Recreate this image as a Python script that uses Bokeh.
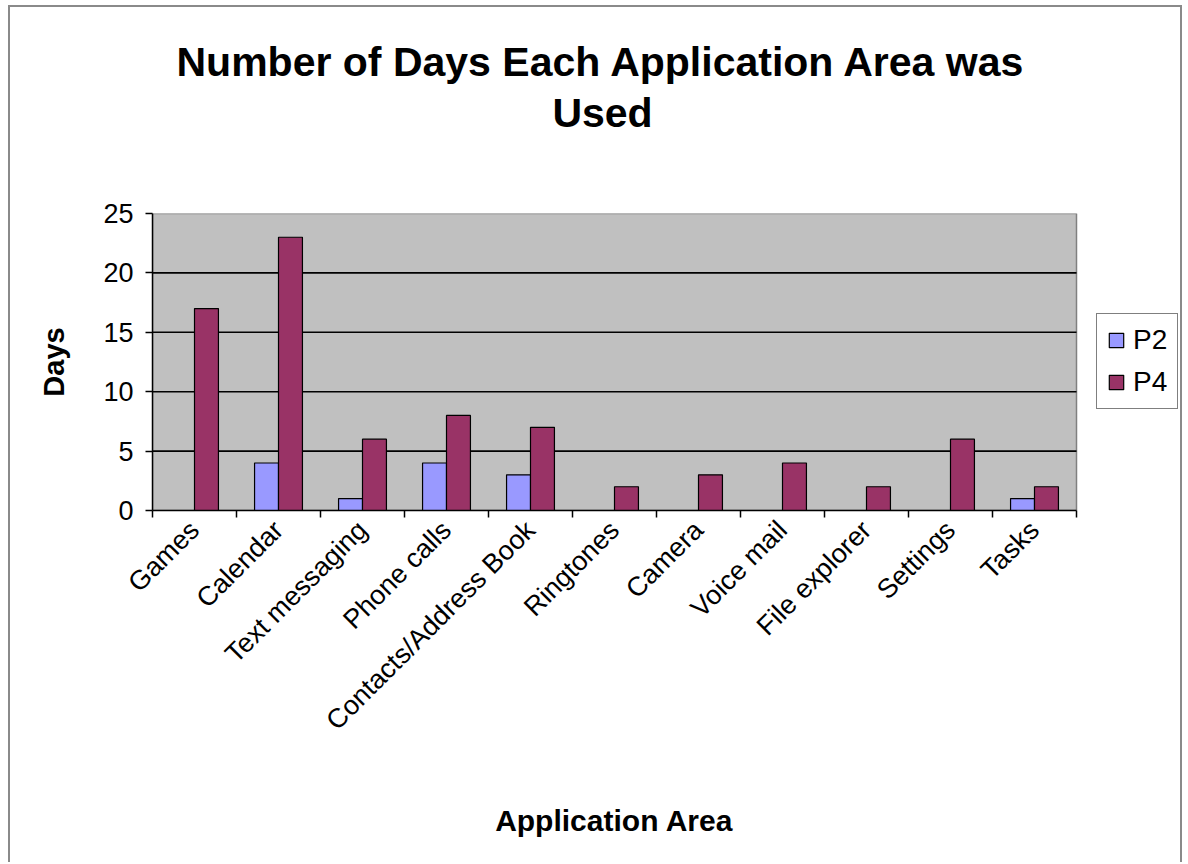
import math
from bokeh.plotting import figure
from bokeh.models import Range1d, FixedTicker, Legend, LegendItem
from bokeh.embed import file_html
from bokeh.resources import INLINE

# Usage data: number of days each application area was used
areas = ["Games", "Calendar", "Text messaging", "Phone calls", "Contacts/Address Book",
         "Ringtones", "Camera", "Voice mail", "File explorer", "Settings", "Tasks"]
p2_days = [0, 4, 1, 4, 3, 0, 0, 0, 0, 0, 1]
p4_days = [17, 23, 6, 8, 7, 2, 3, 4, 2, 6, 2]
y_ticks = [0, 5, 10, 15, 20, 25]

FONT = "Liberation Sans"
BAR_W = 0.285
N = len(areas)

# The frame runs to the right edge of the canvas so the legend can sit
# beside the grey plot area; the plot area itself covers x in [0, N].
FRAME_PX = 1032
PLOT_PX = 924
x_end = N * FRAME_PX / PLOT_PX

centers = [i + 0.5 for i in range(N)]
x_p2 = [c - BAR_W / 2 for c in centers]
x_p4 = [c + BAR_W / 2 for c in centers]

p = figure(width=1174, height=857,
           x_range=Range1d(0, x_end), y_range=Range1d(y_ticks[0], y_ticks[-1]),
           output_backend="svg", toolbar_location=None,
           min_border_left=142, min_border_right=0,
           min_border_top=206, min_border_bottom=354)

p.styles = {"margin-left": "8px", "margin-top": "5px",
            "border-left": "2px solid #8a8a8a", "border-top": "2px solid #8a8a8a",
            "border-right": "2px solid #8a8a8a"}

p.background_fill_color = "white"
p.border_fill_color = "white"
p.outline_line_color = None

# grey plot area with its horizontal grid lines
p.quad(left=[0], right=[N], bottom=[y_ticks[0]], top=[y_ticks[-1]],
       fill_color="#C0C0C0", line_color="#808080", line_width=1.5)
grid_y = y_ticks[1:-1]
p.segment(x0=[0] * len(grid_y), y0=grid_y, x1=[N] * len(grid_y), y1=grid_y,
          line_color="black", line_width=1.6)

r2 = p.vbar(x=x_p2, top=p2_days, width=BAR_W, fill_color="#9999FF",
            line_color="black", line_width=1.2)
r4 = p.vbar(x=x_p4, top=p4_days, width=BAR_W, fill_color="#993366",
            line_color="black", line_width=1.2)

# Two-line title; the short second line is indented with no-break spaces
# so that it sits centred under the first line, and a blank third line
# lifts the block towards the top of the chart
line1 = "Number of Days Each Application Area was"
line2 = "\u00a0" * 33 + "Used"
p.title.text = line1 + "\n" + line2 + "\n\u00a0"
p.title.align = "left"
p.title.offset = 24
p.title.text_font = FONT
p.title.text_font_size = "41px"
p.title.text_font_style = "bold"
p.title.text_color = "black"
p.title.text_line_height = 1.11
p.title.standoff = 52

# Y axis
yax = p.yaxis[0]
yax.ticker = FixedTicker(ticks=y_ticks)
yax.axis_line_color = "black"
yax.axis_line_width = 1.5
yax.major_tick_line_color = "black"
yax.major_tick_line_width = 1.5
yax.major_tick_out = 7
yax.major_tick_in = 0
yax.minor_tick_line_color = None
yax.major_label_text_font = FONT
yax.major_label_text_font_size = "27px"
yax.major_label_text_color = "black"
yax.major_label_standoff = 12
yax.axis_label = "Days"
yax.axis_label_text_font = FONT
yax.axis_label_text_font_size = "29px"
yax.axis_label_text_font_style = "bold"
yax.axis_label_text_color = "black"
yax.axis_label_standoff = 30

# X axis: labels at category centres, tick marks between categories
xax = p.xaxis[0]
xax.bounds = (0, N)
xax.ticker = FixedTicker(ticks=centers, minor_ticks=list(range(N + 1)))
xax.major_label_overrides = {c: a for c, a in zip(centers, areas)}
xax.major_label_orientation = math.pi / 4
xax.axis_line_color = "black"
xax.axis_line_width = 1.5
xax.major_tick_line_color = None
xax.major_tick_out = 0
xax.major_tick_in = 0
xax.minor_tick_line_color = "black"
xax.minor_tick_line_width = 1.5
xax.minor_tick_out = 7
xax.minor_tick_in = 0
xax.major_label_text_font = FONT
xax.major_label_text_font_size = "27px"
xax.major_label_text_color = "black"
xax.major_label_standoff = 8
# trailing no-break spaces centre the label under the grey plot area
# rather than under the whole frame
xax.axis_label = "Application Area" + "\u00a0" * 13
xax.axis_label_text_font = FONT
xax.axis_label_text_font_size = "30px"
xax.axis_label_text_font_style = "bold"
xax.axis_label_text_color = "black"
xax.axis_label_standoff = 55

p.xgrid.visible = False
p.ygrid.visible = False

legend = Legend(items=[LegendItem(label="P2", renderers=[r2]),
                       LegendItem(label="P4", renderers=[r4])],
                location=(944, 101))
legend.label_text_font = FONT
legend.label_text_font_size = "28px"
legend.label_text_color = "black"
legend.glyph_width = 18
legend.glyph_height = 18
legend.label_standoff = 8
legend.padding = 10
legend.spacing = 10
legend.margin = 0
legend.border_line_color = "black"
legend.border_line_width = 1.5
legend.background_fill_color = "white"
legend.background_fill_alpha = 1.0
p.add_layout(legend)

open("out.html", "w").write(file_html(p, INLINE))
